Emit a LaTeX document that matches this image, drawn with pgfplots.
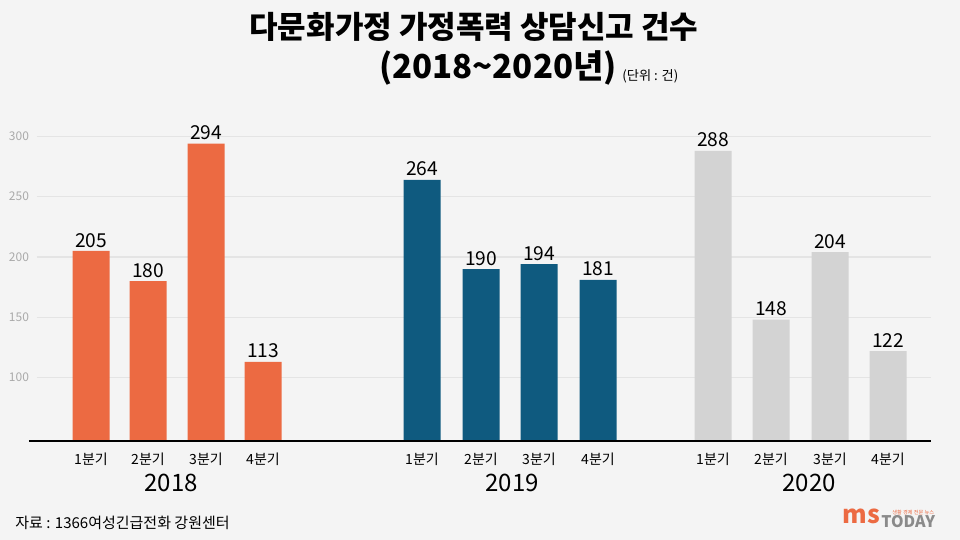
\documentclass[border=0pt]{standalone}
\usepackage{fontspec}
\setmainfont{Noto Sans CJK KR}
\usepackage{pgfplots}
\pgfplotsset{compat=1.18}
\definecolor{bg}{HTML}{F4F4F4}
\definecolor{c18}{HTML}{EC6A42}
\definecolor{c19}{HTML}{0F5A7F}
\definecolor{c20}{HTML}{D3D3D3}
\definecolor{gridc}{HTML}{E4E4E4}
\definecolor{tickc}{HTML}{AAAAAA}
\definecolor{logog}{HTML}{8A8A8A}
\begin{document}
\begin{tikzpicture}
\fill[bg] (-18.5pt,-49.25pt) rectangle (461.5pt,220.75pt);
\begin{axis}[
  scale only axis, width=447pt, height=158.6pt,
  xmin=37, xmax=931, ymin=47, ymax=310,
  clip=false,
  axis line style={draw=none},
  major tick length=0pt,
  ytick={100,150,200,250,300},
  ymajorgrids, grid style={gridc, line width=0.7pt},
  yticklabel style={font=\fontsize{6}{7}\selectfont, text=tickc, anchor=east, xshift=-0.5pt},
  xtick={91,148,206,263,422,481,539,598,713,771,830,888},
  xticklabels={1분기,2분기,3분기,4분기,1분기,2분기,3분기,4분기,1분기,2분기,3분기,4분기},
  xticklabel style={font=\fontsize{7}{8}\selectfont, yshift=-2pt},
  ybar, bar width=18.5pt,
  nodes near coords,
  nodes near coords style={font=\fontsize{9.6}{10}\selectfont, text=black, anchor=south, yshift=-1.7pt},
  /pgf/number format/assume math mode=true,
]
\addplot[fill=c18, draw=none, bar shift=0pt] coordinates {(91,205) (148,180) (206,294) (263,113)};
\addplot[fill=c19, draw=none, bar shift=0pt] coordinates {(422,264) (481,190) (539,194) (598,181)};
\addplot[fill=c20, draw=none, bar shift=0pt] coordinates {(713,288) (771,148) (830,204) (888,122)};
\draw[black, line width=1pt] (axis cs:29,47) -- (axis cs:931,47);
\end{axis}
\begin{scope}[shift={(-18.5pt,220.75pt)}, x=0.5pt, y=-0.5pt]
\node[font=\fontsize{15.5}{18}\selectfont\bfseries] at (474,27) {다문화가정 가정폭력 상담신고 건수};
\node[font=\fontsize{16.5}{18}\selectfont\bfseries] at (498,68) {(2018\textasciitilde 2020년)};
\node[font=\fontsize{6.6}{8}\selectfont, anchor=west, inner sep=0pt] at (622,76) {(단위 : 건)};
\node[font=\fontsize{12}{14}\selectfont] at (171,483) {2018};
\node[font=\fontsize{12}{14}\selectfont] at (512,483) {2019};
\node[font=\fontsize{12}{14}\selectfont] at (809,483) {2020};
\node[font=\fontsize{7.5}{9}\selectfont, anchor=west, inner sep=0pt] at (15,523) {자료 : 1366여성긴급전화 강원센터};
\node[font=\fontsize{12.5}{14}\selectfont\bfseries, text=c18, anchor=west, inner sep=0pt] at (842,516) {ms};
\node[font=\fontsize{2.6}{3}\selectfont, text=c18, anchor=west, inner sep=0pt] at (892,513) {생활 경제 전문 뉴스};
\node[font=\fontsize{8}{9}\selectfont\bfseries, text=logog, anchor=west, inner sep=0pt] at (881,522) {TODAY};
\end{scope}
\end{tikzpicture}
\end{document}
